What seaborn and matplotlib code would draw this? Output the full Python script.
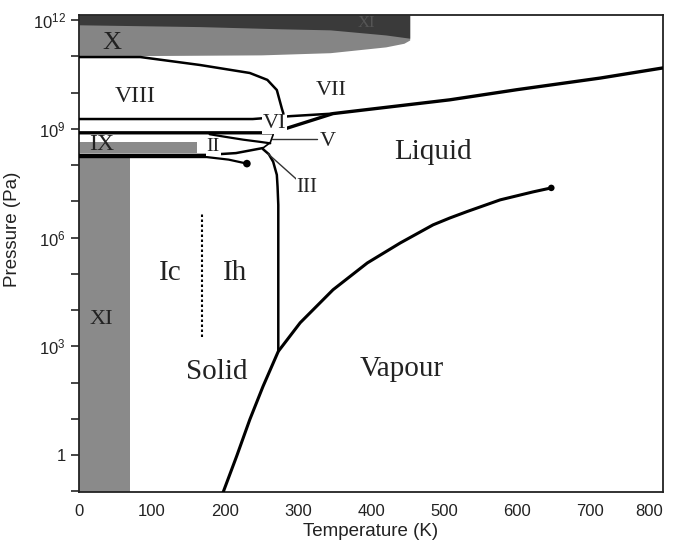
import numpy as np
import pandas as pd
import matplotlib
matplotlib.use("Agg")
import matplotlib.pyplot as plt
import seaborn as sns

# ---------------- data (temperature in K, pressure as log10(Pa)) ----------------
x_ticks = [0, 100, 200, 300, 400, 500, 600, 700, 800]
x_tick_labels = ["0", "100", "200", "300", "400", "500", "600", "700", "800"]
y_ticks_log = [0, 3, 6, 9, 12]
y_tick_labels = ["1", "$10^{3}$", "$10^{6}$", "$10^{9}$", "$10^{12}$"]

# sublimation / vaporisation curve, ending at the critical point
vap_T = [197, 216, 234, 252, 273, 303, 348, 395, 440, 485, 508, 532, 577, 622, 647]
vap_logP = [-1.05, -0.03, 0.98, 1.89, 2.86, 3.65, 4.56, 5.30, 5.85, 6.35, 6.54, 6.72, 7.04, 7.26, 7.37]
crit_T = [647]
crit_logP = [7.37]

# ice Ih melting curve (from the triple point upwards)
ih_T = [273, 273, 273, 272, 271, 266, 260, 252]
ih_logP = [2.86, 5.0, 6.9, 7.4, 7.73, 8.09, 8.30, 8.44]

# VIII / X boundary
vx_T = [0, 84, 166, 234, 258, 271, 278, 280]
vx_logP = [10.98, 10.98, 10.76, 10.54, 10.35, 10.07, 9.55, 9.42]

# VIII / VI and VI / VII boundary
vi_T = [0, 238, 290, 348]
vi_logP = [9.27, 9.27, 9.35, 9.42]

# thick VI / II-V line, then VI melting curve and VII melting curve
b_T = [0, 265, 348, 508, 600, 714, 800]
b_logP = [8.89, 8.89, 9.42, 9.80, 10.08, 10.40, 10.68]

# II / V boundary
iiv_T = [179, 200, 225, 248, 262]
iiv_logP = [8.85, 8.78, 8.70, 8.64, 8.60]

# II / III boundary
iiiii_T = [0, 175, 215, 252]
iiiii_logP = [8.28, 8.28, 8.33, 8.47]

# Ih / II boundary ending with a dot
ihii_T = [0, 175, 205, 230]
ihii_logP = [8.22, 8.22, 8.15, 8.04]
dot_T = [230]
dot_logP = [8.04]

# III / V boundary
iiiv_T = [252, 262, 266]
iiiv_logP = [8.47, 8.62, 8.84]

# leader lines
v_lead_T = [264, 326]
v_lead_logP = [8.72, 8.72]
iii_lead_T = [259, 299]
iii_lead_logP = [8.31, 7.59]

# Ic / Ih dotted divider
icih_T = [168, 168]
icih_logP = [3.27, 6.71]

# shaded regions
xi_col_T = [0, 70]
xi_col_top = 8.23
ix_T = [0, 162]
ix_logP = [8.33, 8.64]
x_T = [0, 250, 344, 420, 445, 453]
x_low = [11.01, 11.04, 11.10, 11.26, 11.36, 11.45]
xi_top_T = [0, 165, 275, 344, 420, 453]
xi_top_low = [11.87, 11.82, 11.76, 11.73, 11.59, 11.50]

# labels: (text, T, log10 P, size)
labels = [
    ("X", 45, 11.36, 19), ("XI", 394, 11.92, 12), ("VIII", 77, 9.88, 17),
    ("VII", 346, 10.07, 16), ("VI", 268, 9.14, 16), ("V", 341, 8.66, 16),
    ("IX", 31, 8.56, 17), ("II", 184, 8.50, 14), ("III", 312, 7.38, 15),
    ("Liquid", 485, 8.36, 21), ("Ic", 125, 5.03, 21), ("Ih", 214, 5.03, 21),
    ("Solid", 189, 2.30, 21), ("Vapour", 442, 2.36, 21), ("XI", 30, 3.74, 16),
]

YMIN, YMAX = -1.02, 12.14

# ---------------- figure ----------------
sns.set_style("white")
plt.rcParams["font.family"] = ["Liberation Sans", "DejaVu Sans"]
plt.rcParams["mathtext.fontset"] = "custom"
plt.rcParams["mathtext.rm"] = "Liberation Sans"
plt.rcParams["mathtext.default"] = "regular"

fig = plt.figure(figsize=(6.75, 5.47), dpi=100)
ax = fig.add_axes([79 / 675, 1 - 492 / 547, (663 - 79) / 675, (492 - 15) / 547])
ax.set_yscale("log")
ax.set_xlim(0, 800)
ax.set_ylim(10 ** YMIN, 10 ** YMAX)

def P(v):
    return 10 ** np.asarray(v, dtype=float)

gray = "#8a8a8a"
dark = "#3a3a3a"
# shaded regions
ax.fill_between(xi_col_T, 10 ** YMIN, 10 ** xi_col_top, color=gray, lw=0, zorder=1)
ax.fill_between(ix_T, P(ix_logP[0]), P(ix_logP[1]), color=gray, lw=0, zorder=1)
ax.fill_between(x_T, P(x_low), 10 ** YMAX, color="#858585", lw=0, zorder=1)
ax.fill_between(xi_top_T, P(xi_top_low), 10 ** YMAX, color=dark, lw=0, zorder=1)

def line(T, lp, lw=1.8, ls="-", color="black"):
    df = pd.DataFrame({"T": T, "P": P(lp)})
    sns.lineplot(data=df, x="T", y="P", ax=ax, sort=False, estimator=None,
                 color=color, lw=lw, ls=ls, zorder=3)

line(vap_T, vap_logP, lw=2.2)
line(ih_T, ih_logP, lw=1.8)
line(vx_T, vx_logP, lw=1.8)
line(vi_T, vi_logP, lw=1.8)
line(b_T, b_logP, lw=2.4)
line(iiv_T, iiv_logP, lw=1.6)
line(iiiii_T, iiiii_logP, lw=1.8)
line(ihii_T, ihii_logP, lw=1.6)
line(iiiv_T, iiiv_logP, lw=1.2)
line(v_lead_T, v_lead_logP, lw=1.0, color="#333333")
line(iii_lead_T, iii_lead_logP, lw=1.0, color="#333333")
line(icih_T, icih_logP, lw=1.5, ls=(0, (1.2, 1.2)))

sns.scatterplot(x=crit_T, y=P(crit_logP), ax=ax, color="black", s=22, zorder=4, edgecolor="none")
sns.scatterplot(x=dot_T, y=P(dot_logP), ax=ax, color="black", s=30, zorder=4, edgecolor="none")

for txt, t, lp, size in labels:
    bbox = None
    if txt in ("VI", "V", "III", "II"):
        bbox = dict(facecolor="white", edgecolor="none", pad=0.5)
    ax.text(t, 10 ** lp, txt, ha="center", va="center", fontsize=size,
            family=["Liberation Serif", "DejaVu Serif"],
            color="#222222" if txt != "XI" or lp < 5 else "#555555",
            zorder=5, bbox=bbox)

# axes styling
ax.set_xticks(x_ticks)
ax.set_xticklabels(x_tick_labels)
ax.set_xticks(np.arange(0, 801, 20), minor=True)
ax.set_yticks(P(y_ticks_log))
ax.set_yticklabels(y_tick_labels)
ax.set_yticks(P([v for v in range(-1, 13) if v % 3 != 0]), minor=True)
ax.yaxis.set_minor_formatter(matplotlib.ticker.NullFormatter())
ax.tick_params(axis="x", which="major", direction="inout", length=9, width=1.2, labelsize=12, pad=4)
ax.tick_params(axis="x", which="minor", direction="in", length=5, width=1.0)
ax.tick_params(axis="y", which="both", direction="out", length=6, width=1.2, labelsize=12, left=True)
ax.tick_params(top=False, right=False)
for lab in ax.get_xticklabels() + ax.get_yticklabels():
    lab.set_color("#222222")
# keep the last tick label inside the canvas
ax.get_xticklabels()[-1].set_horizontalalignment("right")
ax.get_xticklabels()[-1].set_x(806)
for s in ax.spines.values():
    s.set_color("#222222")
    s.set_linewidth(1.3)
    s.set_visible(True)

ax.set_xlabel("Temperature (K)", fontsize=13.5, labelpad=3, color="#222222")
ax.set_ylabel("Pressure (Pa)", fontsize=13.5, color="#222222")
ax.yaxis.set_label_coords(-0.1, 0.55)

fig.savefig("out.png", dpi=100)
